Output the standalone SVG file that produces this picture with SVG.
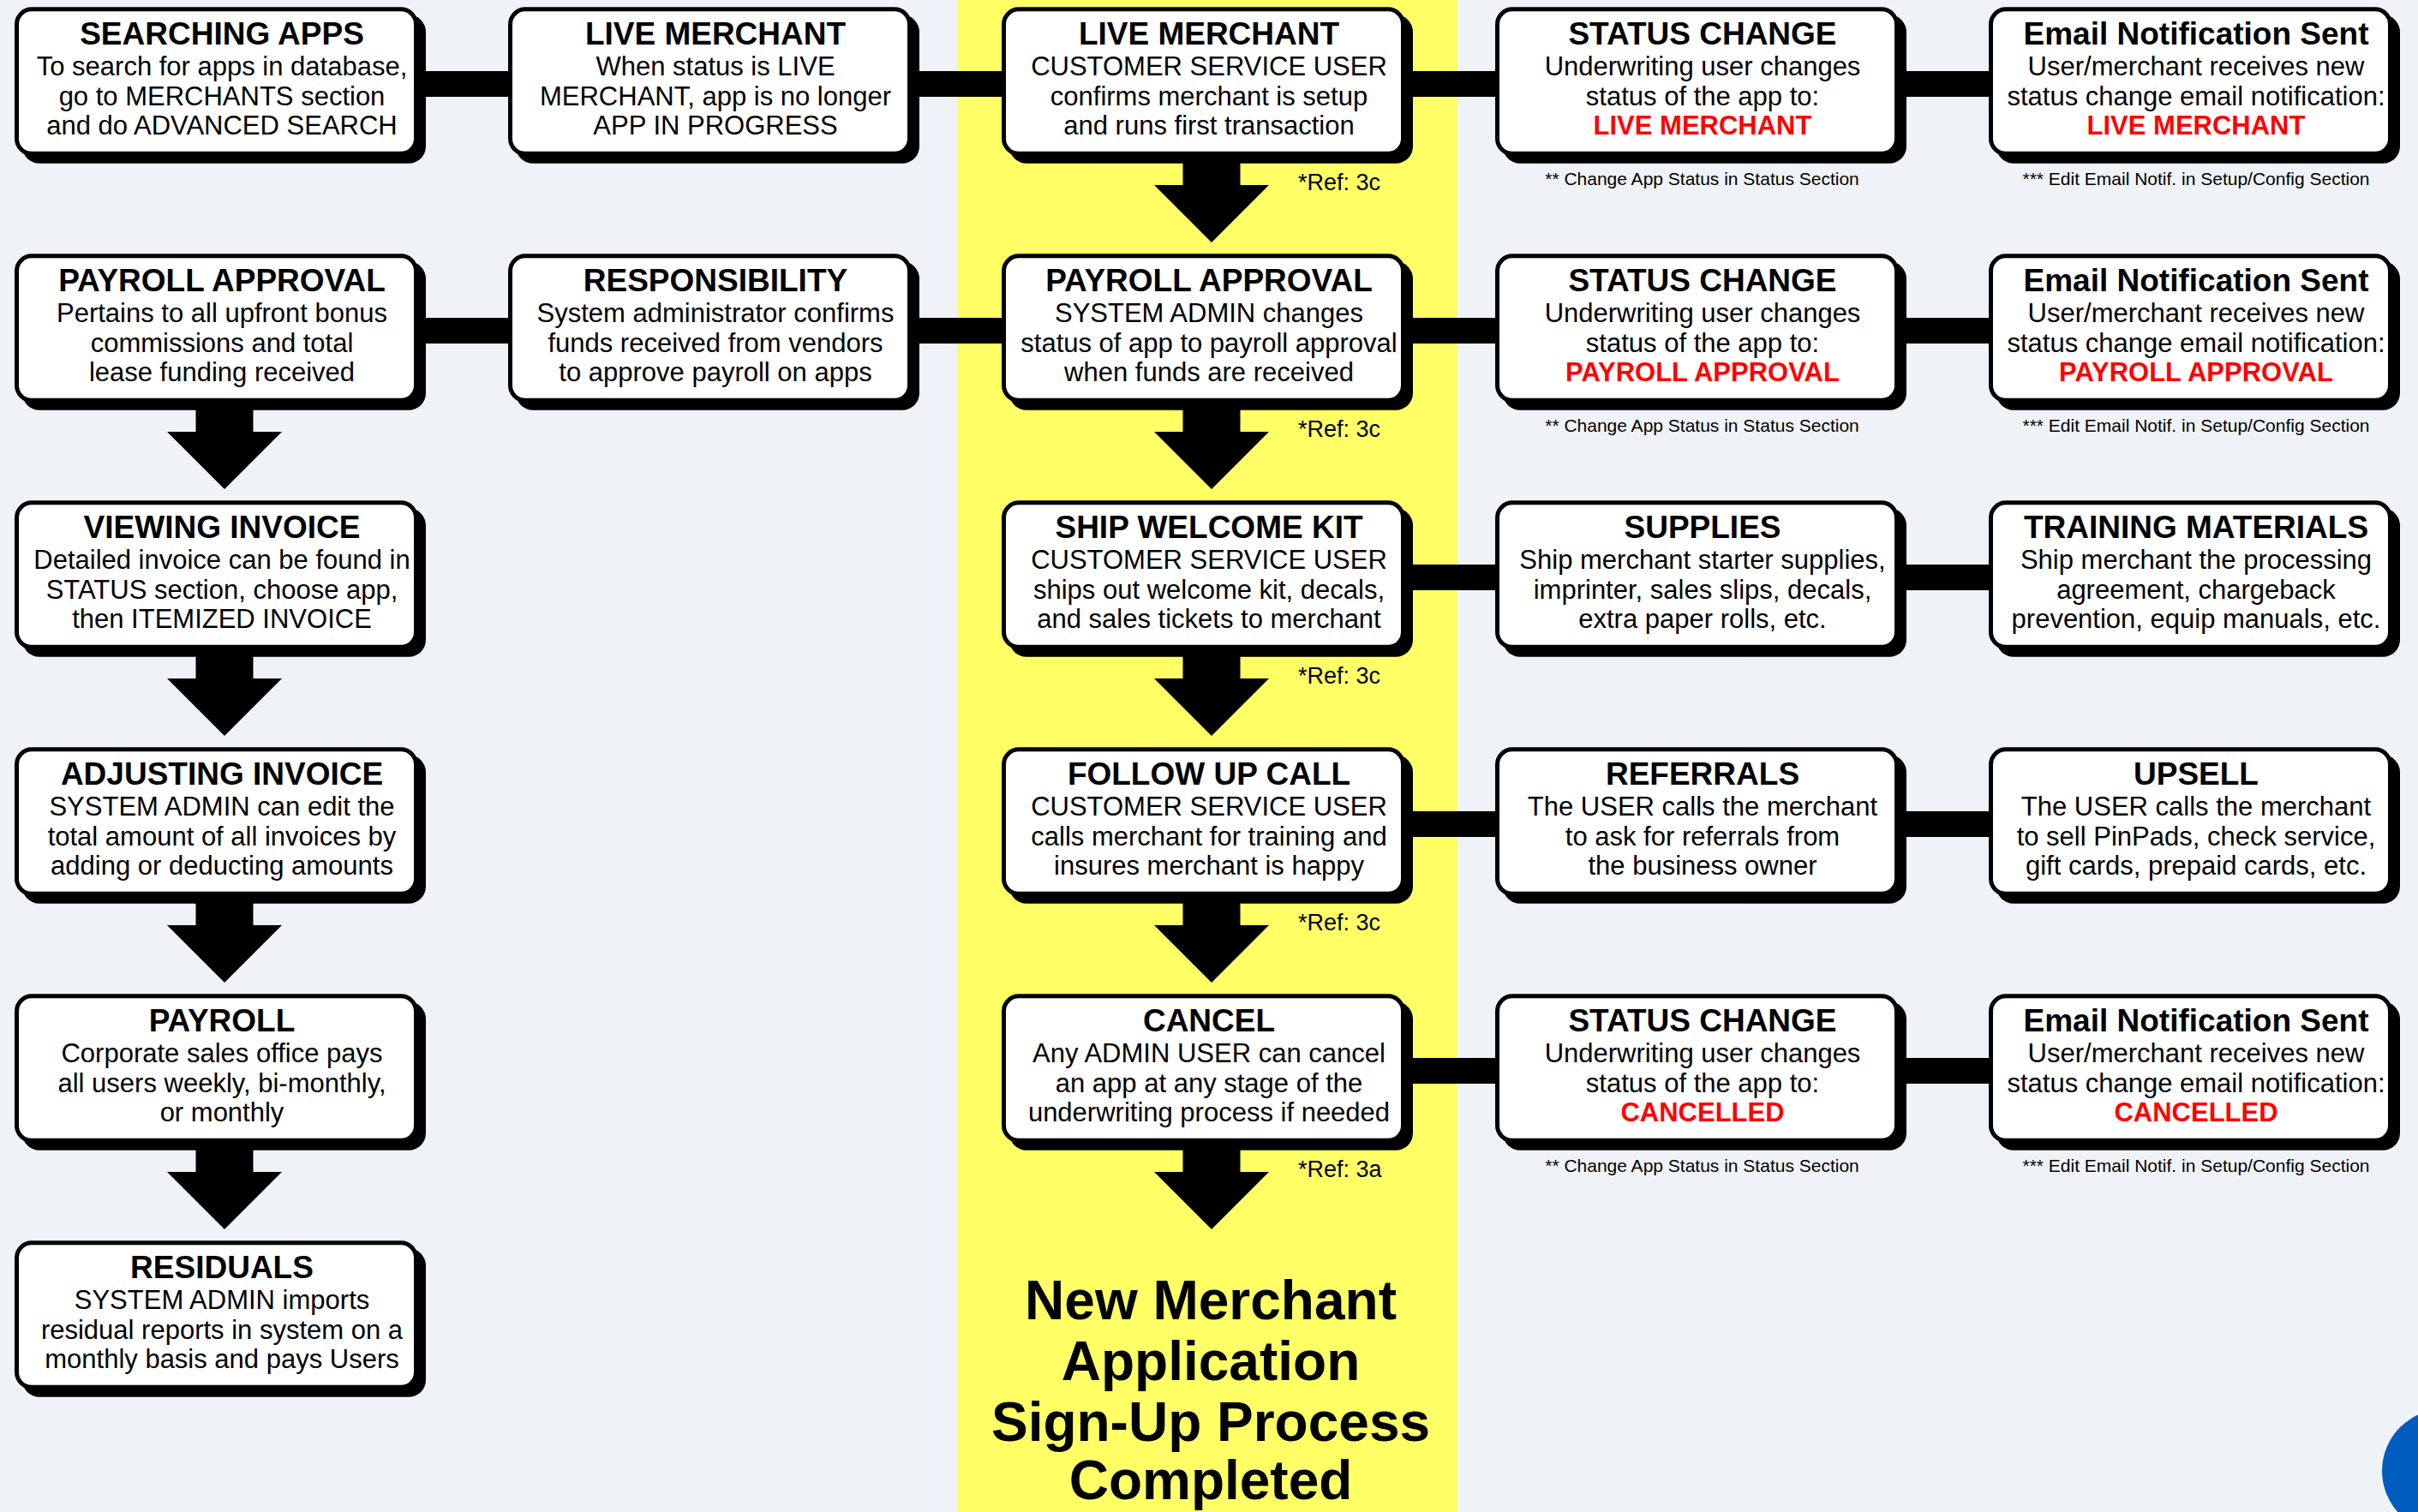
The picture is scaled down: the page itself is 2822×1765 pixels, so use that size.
<svg xmlns="http://www.w3.org/2000/svg" xmlns:xlink="http://www.w3.org/1999/xlink" width="2822" height="1765" viewBox="0 0 2822 1765">
  <style>
    .bg { fill: #EFF3F7; }
    .lane { fill: #FFFF66; }
    .shd { fill: #000000; }
    .card { fill: #FFFFFF; stroke: #000000; stroke-width: 5; }
    .conn { fill: #000000; }
    text { font-family: "Liberation Sans", Arial, Helvetica, sans-serif; text-anchor: middle; fill: #000000; }
    .t { font-size: 37px; font-weight: bold; }
    .b { font-size: 31px; }
    .st { font-size: 31px; font-weight: bold; fill: #FF0000; }
    .ref { font-size: 27px; text-anchor: start; }
    .fn { font-size: 21px; }
    .done { font-size: 64px; font-weight: bold; }
  </style>
  <defs>
    <!-- drop shadow and card body shared by every step box -->
    <rect id="shadow" x="9" y="9" width="471" height="173.5" rx="20"/>
    <rect id="cardbox" x="2.5" y="2.5" width="466" height="168.5" rx="17.5"/>
  </defs>

  <rect class="bg" x="0" y="0" width="2822" height="1765"/>
  <rect class="lane" x="1117" y="0" width="584" height="1765"/>
  <circle cx="2852" cy="1717" r="72" fill="#005DBF"/>

  <!-- connectors: horizontal bars and down arrows -->
  <g id="connectors">
    <rect class="conn" x="487" y="83" width="116" height="30"/>
    <rect class="conn" x="1063" y="83" width="116" height="30"/>
    <rect class="conn" x="1639" y="83" width="116" height="30"/>
    <rect class="conn" x="2215" y="83" width="116" height="30"/>
    <rect class="conn" x="487" y="371" width="116" height="30"/>
    <rect class="conn" x="1063" y="371" width="116" height="30"/>
    <rect class="conn" x="1639" y="371" width="116" height="30"/>
    <rect class="conn" x="2215" y="371" width="116" height="30"/>
    <rect class="conn" x="1639" y="659" width="116" height="30"/>
    <rect class="conn" x="2215" y="659" width="116" height="30"/>
    <rect class="conn" x="1639" y="947" width="116" height="30"/>
    <rect class="conn" x="2215" y="947" width="116" height="30"/>
    <rect class="conn" x="1639" y="1235" width="116" height="30"/>
    <rect class="conn" x="2215" y="1235" width="116" height="30"/>

    <path class="conn" d="M228.5,466.3 H295.5 V504 H329 L262,571 L195,504 H228.5 Z"/>
    <path class="conn" d="M228.5,754.3 H295.5 V792 H329 L262,859 L195,792 H228.5 Z"/>
    <path class="conn" d="M228.5,1042.3 H295.5 V1080 H329 L262,1147 L195,1080 H228.5 Z"/>
    <path class="conn" d="M228.5,1330.3 H295.5 V1368 H329 L262,1435 L195,1368 H228.5 Z"/>

    <path class="conn" d="M1380.5,178.3 H1447.5 V216 H1481 L1414,283 L1347,216 H1380.5 Z"/>
    <path class="conn" d="M1380.5,466.3 H1447.5 V504 H1481 L1414,571 L1347,504 H1380.5 Z"/>
    <path class="conn" d="M1380.5,754.3 H1447.5 V792 H1481 L1414,859 L1347,792 H1380.5 Z"/>
    <path class="conn" d="M1380.5,1042.3 H1447.5 V1080 H1481 L1414,1147 L1347,1080 H1380.5 Z"/>
    <path class="conn" d="M1380.5,1330.3 H1447.5 V1368 H1481 L1414,1435 L1347,1368 H1380.5 Z"/>

    <text class="ref" x="1515" y="222">*Ref: 3c</text>
    <text class="ref" x="1515" y="510">*Ref: 3c</text>
    <text class="ref" x="1515" y="798">*Ref: 3c</text>
    <text class="ref" x="1515" y="1086">*Ref: 3c</text>
    <text class="ref" x="1515" y="1374">*Ref: 3a</text>
  </g>

  <!-- column 1 -->
  <g id="searching-apps" transform="translate(17,8.3)">
    <use xlink:href="#shadow" class="shd"/><use xlink:href="#cardbox" class="card"/>
    <text class="t" x="242" y="44">SEARCHING APPS</text>
    <text class="b"><tspan x="242" y="80">To search for apps in database,</tspan><tspan x="242" y="114.3">go to MERCHANTS section</tspan><tspan x="242" y="148.6">and do ADVANCED SEARCH</tspan></text>
  </g>
  <g id="payroll-approval-left" transform="translate(17,296.3)">
    <use xlink:href="#shadow" class="shd"/><use xlink:href="#cardbox" class="card"/>
    <text class="t" x="242" y="44">PAYROLL APPROVAL</text>
    <text class="b"><tspan x="242" y="80">Pertains to all upfront bonus</tspan><tspan x="242" y="114.3">commissions and total</tspan><tspan x="242" y="148.6">lease funding received</tspan></text>
  </g>
  <g id="viewing-invoice" transform="translate(17,584.3)">
    <use xlink:href="#shadow" class="shd"/><use xlink:href="#cardbox" class="card"/>
    <text class="t" x="242" y="44">VIEWING INVOICE</text>
    <text class="b"><tspan x="242" y="80">Detailed invoice can be found in</tspan><tspan x="242" y="114.3">STATUS section, choose app,</tspan><tspan x="242" y="148.6">then ITEMIZED INVOICE</tspan></text>
  </g>
  <g id="adjusting-invoice" transform="translate(17,872.3)">
    <use xlink:href="#shadow" class="shd"/><use xlink:href="#cardbox" class="card"/>
    <text class="t" x="242" y="44">ADJUSTING INVOICE</text>
    <text class="b"><tspan x="242" y="80">SYSTEM ADMIN can edit the</tspan><tspan x="242" y="114.3">total amount of all invoices by</tspan><tspan x="242" y="148.6">adding or deducting amounts</tspan></text>
  </g>
  <g id="payroll" transform="translate(17,1160.3)">
    <use xlink:href="#shadow" class="shd"/><use xlink:href="#cardbox" class="card"/>
    <text class="t" x="242" y="44">PAYROLL</text>
    <text class="b"><tspan x="242" y="80">Corporate sales office pays</tspan><tspan x="242" y="114.3">all users weekly, bi-monthly,</tspan><tspan x="242" y="148.6">or monthly</tspan></text>
  </g>
  <g id="residuals" transform="translate(17,1448.3)">
    <use xlink:href="#shadow" class="shd"/><use xlink:href="#cardbox" class="card"/>
    <text class="t" x="242" y="44">RESIDUALS</text>
    <text class="b"><tspan x="242" y="80">SYSTEM ADMIN imports</tspan><tspan x="242" y="114.3">residual reports in system on a</tspan><tspan x="242" y="148.6">monthly basis and pays Users</tspan></text>
  </g>

  <!-- column 2 -->
  <g id="live-merchant-info" transform="translate(593,8.3)">
    <use xlink:href="#shadow" class="shd"/><use xlink:href="#cardbox" class="card"/>
    <text class="t" x="242" y="44">LIVE MERCHANT</text>
    <text class="b"><tspan x="242" y="80">When status is LIVE</tspan><tspan x="242" y="114.3">MERCHANT, app is no longer</tspan><tspan x="242" y="148.6">APP IN PROGRESS</tspan></text>
  </g>
  <g id="responsibility" transform="translate(593,296.3)">
    <use xlink:href="#shadow" class="shd"/><use xlink:href="#cardbox" class="card"/>
    <text class="t" x="242" y="44">RESPONSIBILITY</text>
    <text class="b"><tspan x="242" y="80">System administrator confirms</tspan><tspan x="242" y="114.3">funds received from vendors</tspan><tspan x="242" y="148.6">to approve payroll on apps</tspan></text>
  </g>

  <!-- column 3: main sign-up flow -->
  <g id="live-merchant" transform="translate(1169,8.3)">
    <use xlink:href="#shadow" class="shd"/><use xlink:href="#cardbox" class="card"/>
    <text class="t" x="242" y="44">LIVE MERCHANT</text>
    <text class="b"><tspan x="242" y="80">CUSTOMER SERVICE USER</tspan><tspan x="242" y="114.3">confirms merchant is setup</tspan><tspan x="242" y="148.6">and runs first transaction</tspan></text>
  </g>
  <g id="payroll-approval" transform="translate(1169,296.3)">
    <use xlink:href="#shadow" class="shd"/><use xlink:href="#cardbox" class="card"/>
    <text class="t" x="242" y="44">PAYROLL APPROVAL</text>
    <text class="b"><tspan x="242" y="80">SYSTEM ADMIN changes</tspan><tspan x="242" y="114.3">status of app to payroll approval</tspan><tspan x="242" y="148.6">when funds are received</tspan></text>
  </g>
  <g id="ship-welcome-kit" transform="translate(1169,584.3)">
    <use xlink:href="#shadow" class="shd"/><use xlink:href="#cardbox" class="card"/>
    <text class="t" x="242" y="44">SHIP WELCOME KIT</text>
    <text class="b"><tspan x="242" y="80">CUSTOMER SERVICE USER</tspan><tspan x="242" y="114.3">ships out welcome kit, decals,</tspan><tspan x="242" y="148.6">and sales tickets to merchant</tspan></text>
  </g>
  <g id="follow-up-call" transform="translate(1169,872.3)">
    <use xlink:href="#shadow" class="shd"/><use xlink:href="#cardbox" class="card"/>
    <text class="t" x="242" y="44">FOLLOW UP CALL</text>
    <text class="b"><tspan x="242" y="80">CUSTOMER SERVICE USER</tspan><tspan x="242" y="114.3">calls merchant for training and</tspan><tspan x="242" y="148.6">insures merchant is happy</tspan></text>
  </g>
  <g id="cancel" transform="translate(1169,1160.3)">
    <use xlink:href="#shadow" class="shd"/><use xlink:href="#cardbox" class="card"/>
    <text class="t" x="242" y="44">CANCEL</text>
    <text class="b"><tspan x="242" y="80">Any ADMIN USER can cancel</tspan><tspan x="242" y="114.3">an app at any stage of the</tspan><tspan x="242" y="148.6">underwriting process if needed</tspan></text>
  </g>
  <g id="completed">
    <text class="done" x="1413" y="1540">New Merchant</text>
    <text class="done" x="1413" y="1611">Application</text>
    <text class="done" x="1413" y="1682">Sign-Up Process</text>
    <text class="done" x="1413" y="1750">Completed</text>
  </g>

  <!-- column 4 -->
  <g id="status-live" transform="translate(1745,8.3)">
    <use xlink:href="#shadow" class="shd"/><use xlink:href="#cardbox" class="card"/>
    <text class="t" x="242" y="44">STATUS CHANGE</text>
    <text class="b"><tspan x="242" y="80">Underwriting user changes</tspan><tspan x="242" y="114.3">status of the app to:</tspan></text>
    <text class="st" x="242" y="148.6">LIVE MERCHANT</text>
    <text class="fn" x="241.5" y="207.7">** Change App Status in Status Section</text>
  </g>
  <g id="status-payroll" transform="translate(1745,296.3)">
    <use xlink:href="#shadow" class="shd"/><use xlink:href="#cardbox" class="card"/>
    <text class="t" x="242" y="44">STATUS CHANGE</text>
    <text class="b"><tspan x="242" y="80">Underwriting user changes</tspan><tspan x="242" y="114.3">status of the app to:</tspan></text>
    <text class="st" x="242" y="148.6">PAYROLL APPROVAL</text>
    <text class="fn" x="241.5" y="207.7">** Change App Status in Status Section</text>
  </g>
  <g id="supplies" transform="translate(1745,584.3)">
    <use xlink:href="#shadow" class="shd"/><use xlink:href="#cardbox" class="card"/>
    <text class="t" x="242" y="44">SUPPLIES</text>
    <text class="b"><tspan x="242" y="80">Ship merchant starter supplies,</tspan><tspan x="242" y="114.3">imprinter, sales slips, decals,</tspan><tspan x="242" y="148.6">extra paper rolls, etc.</tspan></text>
  </g>
  <g id="referrals" transform="translate(1745,872.3)">
    <use xlink:href="#shadow" class="shd"/><use xlink:href="#cardbox" class="card"/>
    <text class="t" x="242" y="44">REFERRALS</text>
    <text class="b"><tspan x="242" y="80">The USER calls the merchant</tspan><tspan x="242" y="114.3">to ask for referrals from</tspan><tspan x="242" y="148.6">the business owner</tspan></text>
  </g>
  <g id="status-cancelled" transform="translate(1745,1160.3)">
    <use xlink:href="#shadow" class="shd"/><use xlink:href="#cardbox" class="card"/>
    <text class="t" x="242" y="44">STATUS CHANGE</text>
    <text class="b"><tspan x="242" y="80">Underwriting user changes</tspan><tspan x="242" y="114.3">status of the app to:</tspan></text>
    <text class="st" x="242" y="148.6">CANCELLED</text>
    <text class="fn" x="241.5" y="207.7">** Change App Status in Status Section</text>
  </g>

  <!-- column 5 -->
  <g id="email-live" transform="translate(2321,8.3)">
    <use xlink:href="#shadow" class="shd"/><use xlink:href="#cardbox" class="card"/>
    <text class="t" x="242" y="44">Email Notification Sent</text>
    <text class="b"><tspan x="242" y="80">User/merchant receives new</tspan><tspan x="242" y="114.3">status change email notification:</tspan></text>
    <text class="st" x="242" y="148.6">LIVE MERCHANT</text>
    <text class="fn" x="242" y="207.7">*** Edit Email Notif. in Setup/Config Section</text>
  </g>
  <g id="email-payroll" transform="translate(2321,296.3)">
    <use xlink:href="#shadow" class="shd"/><use xlink:href="#cardbox" class="card"/>
    <text class="t" x="242" y="44">Email Notification Sent</text>
    <text class="b"><tspan x="242" y="80">User/merchant receives new</tspan><tspan x="242" y="114.3">status change email notification:</tspan></text>
    <text class="st" x="242" y="148.6">PAYROLL APPROVAL</text>
    <text class="fn" x="242" y="207.7">*** Edit Email Notif. in Setup/Config Section</text>
  </g>
  <g id="training-materials" transform="translate(2321,584.3)">
    <use xlink:href="#shadow" class="shd"/><use xlink:href="#cardbox" class="card"/>
    <text class="t" x="242" y="44">TRAINING MATERIALS</text>
    <text class="b"><tspan x="242" y="80">Ship merchant the processing</tspan><tspan x="242" y="114.3">agreement, chargeback</tspan><tspan x="242" y="148.6">prevention, equip manuals, etc.</tspan></text>
  </g>
  <g id="upsell" transform="translate(2321,872.3)">
    <use xlink:href="#shadow" class="shd"/><use xlink:href="#cardbox" class="card"/>
    <text class="t" x="242" y="44">UPSELL</text>
    <text class="b"><tspan x="242" y="80">The USER calls the merchant</tspan><tspan x="242" y="114.3">to sell PinPads, check service,</tspan><tspan x="242" y="148.6">gift cards, prepaid cards, etc.</tspan></text>
  </g>
  <g id="email-cancelled" transform="translate(2321,1160.3)">
    <use xlink:href="#shadow" class="shd"/><use xlink:href="#cardbox" class="card"/>
    <text class="t" x="242" y="44">Email Notification Sent</text>
    <text class="b"><tspan x="242" y="80">User/merchant receives new</tspan><tspan x="242" y="114.3">status change email notification:</tspan></text>
    <text class="st" x="242" y="148.6">CANCELLED</text>
    <text class="fn" x="242" y="207.7">*** Edit Email Notif. in Setup/Config Section</text>
  </g>
</svg>
